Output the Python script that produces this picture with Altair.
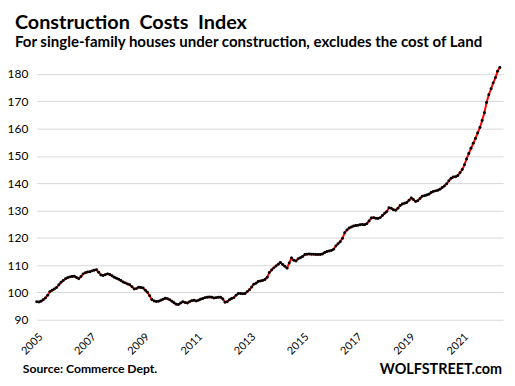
import altair as alt
import pandas as pd

start_year = 2005
start_month = 1

values = [
    # 2005
    96.6, 96.5, 96.8, 97.3, 98.0, 99.0, 100.3, 100.8, 101.3, 101.8, 102.8, 103.7,
    # 2006
    104.4, 105.0, 105.4, 105.7, 105.8, 105.9, 105.5, 105.0, 105.8, 106.8, 107.2, 107.5,
    # 2007
    107.6, 107.9, 108.1, 108.3, 107.4, 106.4, 106.2, 106.5, 106.8, 106.6, 106.1, 105.6,
    # 2008
    105.2, 104.8, 104.4, 103.8, 103.5, 103.1, 102.8, 102.1, 101.3, 101.4, 101.9, 101.8,
    # 2009
    101.6, 100.8, 100.1, 98.8, 97.4, 96.9, 96.7, 96.8, 97.1, 97.5, 97.9, 97.7,
    # 2010
    97.3, 96.8, 96.2, 95.7, 95.6, 96.1, 96.6, 96.3, 96.1, 96.6, 97.0, 97.1,
    # 2011
    96.9, 97.1, 97.5, 97.8, 98.1, 98.2, 98.3, 98.2, 98.0, 98.1, 98.2, 98.2,
    # 2012
    97.6, 96.4, 96.6, 97.3, 97.8, 98.1, 99.0, 99.6, 99.6, 99.5, 99.6, 100.3,
    # 2013
    101.0, 102.0, 103.0, 103.4, 104.0, 104.2, 104.4, 104.7, 105.6, 107.3, 108.2, 109.0,
    # 2014
    109.7, 110.3, 111.0, 110.2, 109.6, 108.9, 110.8, 112.6, 111.8, 111.5, 112.3, 112.7,
    # 2015
    113.2, 113.9, 114.0, 114.1, 114.0, 114.0, 113.9, 113.9, 113.9, 114.1, 114.6, 115.0,
    # 2016
    115.2, 115.4, 115.8, 117.0, 117.8, 118.6, 119.8, 121.9, 122.9, 123.6, 124.0, 124.3,
    # 2017
    124.5, 124.6, 124.8, 124.9, 124.8, 125.2, 126.2, 127.3, 127.4, 127.2, 127.1, 127.4,
    # 2018
    128.2, 129.0, 129.6, 131.0, 130.8, 130.3, 130.1, 130.8, 131.8, 132.4, 132.7, 132.9,
    # 2019
    133.8, 134.6, 134.0, 133.3, 133.6, 134.4, 135.2, 135.4, 135.7, 136.0, 136.6, 137.0,
    # 2020
    137.2, 137.4, 137.8, 138.4, 139.0, 139.8, 140.9, 141.8, 142.3, 142.4, 142.8, 143.8,
    # 2021
    145.0, 146.8, 148.9, 150.9, 152.8, 154.6, 156.4, 158.4, 160.4, 163.0, 165.8, 169.6,
    # 2022
    172.4, 174.6, 176.7, 178.6, 181.0, 182.4,
]

y_ticks = [90, 100, 110, 120, 130, 140, 150, 160, 170, 180]
x_tick_years = [2005, 2007, 2009, 2011, 2013, 2015, 2017, 2019, 2021]

title_text = "Construction\u00a0 Costs\u00a0 Index"
subtitle_text = "For single-family houses under construction, excludes the cost of Land"
source_text = "Source: Commerce Dept."
brand_text = "WOLFSTREET.com"

dates = pd.date_range(f"{start_year}-{start_month:02d}-01", periods=len(values), freq="MS")
df = pd.DataFrame({"date": dates, "value": values})

FONT = "Lato"

x_enc = alt.X(
    "date:T",
    scale=alt.Scale(domain=[alt.DateTime(year=2005, month=1, date=1),
                            alt.DateTime(year=2022, month=7, date=15)]),
    axis=alt.Axis(
        values=[alt.DateTime(year=y, month=1, date=1) for y in x_tick_years],
        format="%Y", labelAngle=-45, grid=False, ticks=False, domain=False,
        labelFont=FONT, labelFontSize=11, labelColor="#000000", labelPadding=11,
        title=None,
    ),
)
y_enc = alt.Y(
    "value:Q",
    scale=alt.Scale(domain=[90, 185], nice=False, zero=False),
    axis=alt.Axis(
        values=y_ticks, grid=True, gridColor="#d9d9d9", gridWidth=1,
        ticks=False, domain=False, labelFont=FONT, labelFontSize=12,
        labelColor="#000000", labelPadding=9, title=None,
    ),
)

line = alt.Chart(df).mark_line(
    color="#ff0000", strokeWidth=2,
    point=alt.OverlayMarkDef(color="#000000", filled=True, size=9, opacity=1),
).encode(x=x_enc, y=y_enc)

notes = pd.DataFrame({"t": [source_text]})
source = alt.Chart(notes).mark_text(
    font=FONT, fontSize=12.3, fontWeight="bold", align="left", baseline="alphabetic", color="#000000"
).encode(x=alt.value(-14), y=alt.value(316), text="t:N")

brand = alt.Chart(pd.DataFrame({"t": [brand_text]})).mark_text(
    font=FONT, fontSize=14.5, fontWeight="bold", align="right", baseline="alphabetic", color="#000000"
).encode(x=alt.value(470), y=alt.value(317), text="t:N")

chart = alt.layer(line, source, brand).properties(
    width=471,
    height=262,
    title=alt.TitleParams(
        text=title_text, subtitle=subtitle_text, anchor="start", frame="group",
        font=FONT, fontSize=20, fontWeight="bold", color="#000000",
        subtitleFont=FONT, subtitleFontSize=15.2, subtitleFontWeight="bold",
        subtitleColor="#000000", dx=-22, offset=10, subtitlePadding=2,
    ),
    autosize=alt.AutoSizeParams(type="none"),
    padding={"left": 29, "top": 51, "right": 4, "bottom": 60},
).configure_view(stroke=None)

chart.save("out.html", embed_options={"renderer": "svg", "actions": False})
